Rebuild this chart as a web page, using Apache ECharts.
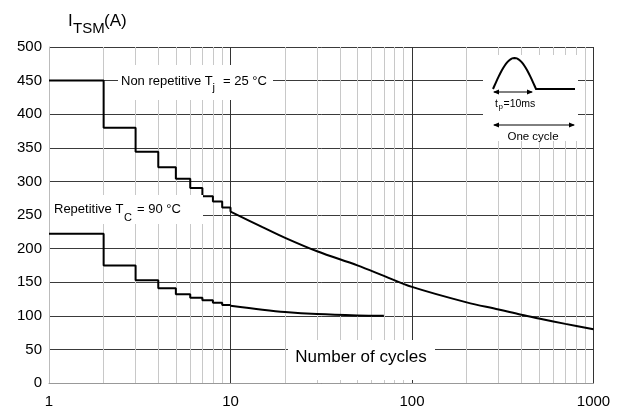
<!DOCTYPE html>
<html>
<head>
<meta charset="utf-8">
<script src="https://cdn.jsdelivr.net/npm/echarts@6/dist/echarts.min.js"></script>
<style>html,body{margin:0;padding:0;background:#fff}#c{width:617px;height:410px}</style>
</head>
<body>
<div id="c"></div>
<script>
// ---- data ----
var nonRepStepX = [1, 2, 3, 4, 5, 6, 7, 8, 9, 10];
var nonRepStepY = [450, 380, 344, 321, 304, 290, 278, 270, 261, 255];
var nonRepCurveX = [10, 15, 20, 30, 50, 70, 100, 200, 300, 400, 500, 700, 1000];
var nonRepCurveY = [255, 232, 216, 196, 175, 159.5, 143, 120, 109.5, 101.5, 96, 88, 80];
var repStepX = [1, 2, 3, 4, 5, 6, 7, 8, 9, 10];
var repStepY = [222, 175, 153, 141, 132, 127, 123, 119.5, 116, 115];
var repCurveX = [10, 15, 20, 30, 50, 70];
var repCurveY = [115, 109, 105.5, 102.5, 100.5, 100];
var minorGridX = [2,3,4,5,6,7,8,9,20,30,40,50,60,70,80,90,200,300,400,500,600,700,800,900];
var yTicks = [0, 50, 100, 150, 200, 250, 300, 350, 400, 450, 500];
var xTicks = [1, 10, 100, 1000];

function zip(xs, ys) { return xs.map(function (x, i) { return [x, ys[i]]; }); }

var FONT = '"Liberation Sans", Arial, sans-serif';
var chart = echarts.init(document.getElementById('c'), null, {renderer: 'canvas'});

function txt(x, y, s, size, align) {
  return {type: 'text', x: x, y: y, z: 110,
    style: {text: s, fontSize: size, fontFamily: FONT, fill: '#000',
      align: align || 'left', verticalAlign: 'middle'}};
}
function arrowHead(x, y, dir) {
  return {type: 'polygon', z: 110, shape: {points: [[x, y], [x - dir * 6, y - 2.5], [x - dir * 6, y + 2.5]]},
    style: {fill: '#000'}};
}
var pulsePts = [];
for (var i = 0; i <= 30; i++) {
  var t = i / 30;
  pulsePts.push([493 + 43 * t, 89 - 31 * Math.sin(Math.PI * t)]);
}
pulsePts.push([575, 89]);

var option = {
  animation: false,
  backgroundColor: '#fff',
  grid: {left: 49, right: 23.5, top: 47, bottom: 27, containLabel: false},
  xAxis: {
    type: 'log', logBase: 10, min: xTicks[0], max: xTicks[xTicks.length - 1],
    axisLine: {show: true, lineStyle: {color: '#999', width: 1}},
    axisTick: {show: false},
    axisLabel: {fontSize: 15, fontFamily: FONT, color: '#000', margin: 11,
      formatter: function (v) { return xTicks.indexOf(v) >= 0 ? String(v) : ''; }},
    splitLine: {show: true, lineStyle: {color: '#333', width: 1}},
    minorTick: {show: false}, minorSplitLine: {show: false}
  },
  yAxis: {
    type: 'value', min: yTicks[0], max: yTicks[yTicks.length - 1], interval: 50,
    axisLine: {show: true, lineStyle: {color: '#bbb', width: 1}},
    axisTick: {show: false},
    axisLabel: {fontSize: 15, fontFamily: FONT, color: '#000', margin: 7},
    splitLine: {show: true, lineStyle: {color: '#3a3a3a', width: 1}}
  },
  series: [
    {type: 'line', data: [], silent: true, z: 1,
      markLine: {silent: true, symbol: ['none', 'none'], label: {show: false}, animation: false,
        lineStyle: {color: '#c8c8c8', width: 1, type: 'solid'},
        data: minorGridX.map(function (v) { return {xAxis: v}; })}},
    {type: 'line', step: 'end', data: zip(nonRepStepX, nonRepStepY), showSymbol: false, z: 5,
      lineStyle: {color: '#000', width: 2}},
    {type: 'line', smooth: 0.35, data: zip(nonRepCurveX, nonRepCurveY), showSymbol: false, z: 5,
      lineStyle: {color: '#000', width: 2}},
    {type: 'line', step: 'end', data: zip(repStepX, repStepY), showSymbol: false, z: 5,
      lineStyle: {color: '#000', width: 2}},
    {type: 'line', smooth: 0.35, data: zip(repCurveX, repCurveY), showSymbol: false, z: 5,
      lineStyle: {color: '#000', width: 2}}
  ],
  graphic: [
    // label boxes
    {type: 'rect', z: 100, shape: {x: 118, y: 65, width: 155, height: 35}, style: {fill: '#fff'}},
    {type: 'rect', z: 100, shape: {x: 50, y: 195, width: 153, height: 29}, style: {fill: '#fff'}},
    {type: 'rect', z: 100, shape: {x: 288, y: 340, width: 147, height: 40}, style: {fill: '#fff'}},
    {type: 'rect', z: 100, shape: {x: 483, y: 55, width: 95, height: 86}, style: {fill: '#fff'}},
    // y title
    txt(68, 21, 'I', 17),
    txt(73, 29, 'TSM', 15),
    txt(104, 21, '(A)', 17),
    // non repetitive
    txt(121, 81.5, 'Non repetitive T', 13),
    txt(212.5, 88, 'j', 11),
    txt(223, 81.5, '= 25 °C', 13),
    // repetitive
    txt(54, 209.5, 'Repetitive T', 13),
    txt(124, 217.5, 'C', 11),
    txt(137, 209.5, '= 90 °C', 13),
    // number of cycles
    txt(361, 357, 'Number of cycles', 17, 'center'),
    // pulse icon
    {type: 'polyline', z: 110, shape: {points: pulsePts}, style: {stroke: '#000', lineWidth: 2, fill: null}},
    {type: 'line', z: 110, shape: {x1: 494, y1: 92, x2: 532, y2: 92}, style: {stroke: '#000', lineWidth: 1}},
    arrowHead(493, 92, -1), arrowHead(533, 92, 1),
    txt(495, 104, 't', 10.5),
    txt(498.5, 107, 'p', 8),
    txt(503.5, 104, '=10ms', 10.5),
    {type: 'line', z: 110, shape: {x1: 494, y1: 125, x2: 574, y2: 125}, style: {stroke: '#000', lineWidth: 1}},
    arrowHead(493, 125, -1), arrowHead(575, 125, 1),
    txt(533, 137, 'One cycle', 11.5, 'center')
  ]
};
chart.setOption(option);
</script>
</body>
</html>
